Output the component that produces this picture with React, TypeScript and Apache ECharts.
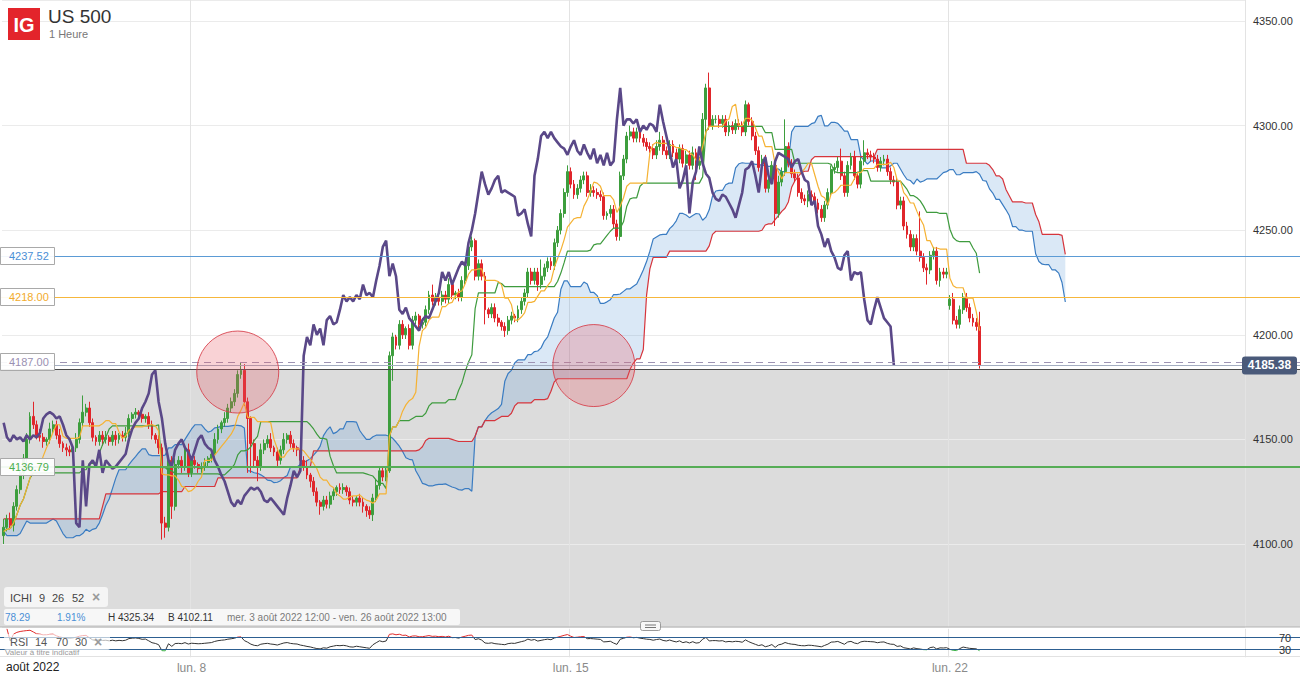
import React, { useEffect, useRef } from "react";
import * as echarts from "echarts";

// ---------- data ----------
const firstOpen = 4104;
const closes = [
  4108, 4112, 4109, 4118, 4126, 4134, 4141, 4150, 4161, 4157,
  4152, 4151, 4149, 4150, 4155, 4157, 4152, 4148, 4146, 4145,
  4144, 4146, 4150, 4158, 4163, 4165, 4158, 4151, 4149, 4152,
  4150, 4151, 4149, 4152, 4150, 4152, 4151, 4153, 4160, 4162,
  4163, 4162, 4160, 4161, 4157, 4152, 4150, 4146, 4110, 4108,
  4140, 4118, 4138, 4140, 4137, 4145, 4134, 4140, 4138, 4136,
  4137, 4139, 4141, 4143, 4150, 4155, 4158, 4160, 4165, 4168,
  4172, 4181, 4183, 4168, 4160, 4148, 4140, 4137, 4145, 4148,
  4150, 4146, 4144, 4140, 4145, 4150, 4152, 4148, 4146, 4145,
  4140, 4137, 4133, 4130, 4125, 4120, 4118, 4121, 4119, 4123,
  4125, 4127, 4126, 4127, 4125, 4121, 4120, 4122, 4120, 4118,
  4116, 4114, 4122, 4128, 4135, 4132, 4135, 4190, 4199, 4195,
  4205, 4200, 4203, 4195, 4207, 4209, 4205, 4206, 4212, 4219,
  4216, 4218, 4216, 4219, 4217, 4224, 4219, 4220, 4218, 4226,
  4233, 4242, 4245, 4228, 4234, 4228, 4212, 4210, 4213, 4208,
  4206, 4204, 4202, 4207, 4209, 4208, 4212, 4216, 4220, 4230,
  4226, 4230, 4224, 4228, 4232, 4235, 4233, 4244, 4250, 4258,
  4268, 4278, 4272, 4267, 4270, 4274, 4276, 4268, 4269, 4268,
  4267, 4266, 4257, 4258, 4260, 4253, 4247, 4276, 4284, 4295,
  4297, 4294, 4297, 4294, 4292, 4290, 4289, 4286, 4290, 4293,
  4288, 4286, 4291, 4287, 4284, 4289, 4282, 4286, 4281, 4287,
  4281, 4283, 4303, 4318, 4300, 4303, 4303, 4301, 4303, 4297,
  4300, 4298, 4301, 4300, 4297, 4310, 4302, 4295, 4288, 4280,
  4284, 4270, 4274, 4281, 4258, 4273, 4278, 4290, 4282, 4277,
  4275, 4268, 4265, 4264, 4267, 4266, 4263, 4260, 4256, 4262,
  4268, 4279, 4280, 4283, 4276, 4268, 4281, 4285, 4276, 4272,
  4283, 4287, 4286, 4285, 4284, 4280, 4283, 4284, 4278, 4274,
  4273, 4262, 4264, 4252, 4248, 4242, 4246, 4240, 4237, 4232,
  4231, 4238, 4240, 4226, 4230, 4229, 4230, 4217, 4207, 4205,
  4212, 4218, 4213, 4208, 4206, 4204, 4185.38,
];
// upper / lower wick lengths in points
const wickUp = [
  4, 2, 3, 2, 2, 3, 2, 3, 2, 7, 2, 3, 2, 1, 3, 2, 2, 3, 1, 2,
  2, 1, 3, 2, 8, 2, 3, 2, 1, 2, 2, 3, 1, 2, 2, 1, 2, 3, 2, 1,
  2, 1, 2, 1, 2, 2, 1, 2, 2, 3, 1, 2, 3, 2, 2, 1, 3, 2, 2, 1,
  2, 2, 1, 2, 3, 2, 1, 3, 2, 2, 2, 2, 4, 3, 2, 1, 2, 2, 3, 2,
  2, 3, 1, 2, 2, 3, 1, 2, 2, 1, 2, 2, 3, 1, 2, 2, 1, 2, 2, 2,
  2, 1, 2, 2, 1, 2, 2, 1, 2, 2, 1, 2, 2, 3, 2, 2, 2, 2, 2, 1,
  2, 2, 1, 2, 2, 2, 1, 2, 2, 2, 5, 2, 1, 2, 2, 3, 2, 1, 2, 2,
  2, 2, 2, 1, 2, 2, 2, 1, 2, 2, 2, 1, 2, 2, 2, 1, 2, 2, 2, 2,
  2, 2, 2, 8, 2, 2, 2, 2, 2, 2, 2, 3, 2, 2, 2, 2, 2, 2, 3, 2,
  2, 2, 2, 1, 2, 2, 2, 2, 2, 2, 3, 2, 2, 2, 2, 2, 2, 2, 3, 4,
  2, 2, 2, 2, 2, 2, 2, 2, 2, 3, 2, 2, 3, 2, 7.34, 2, 2, 2, 2, 2,
  2, 2, 2, 2, 2, 2, 1, 2, 2, 2, 2, 2, 3, 2, 2, 3, 2, 13, 2, 2,
  2, 2, 2, 2, 2, 2, 2, 2, 2, 2, 2, 2, 2, 2, 6, 2, 2, 2, 3, 2,
  2, 6, 2, 2, 2, 2, 2, 2, 2, 2, 2, 2, 2, 2, 2, 2, 2, 2, 19, 2,
  2, 2, 2, 2, 2, 2, 2, 2, 3, 2, 2, 2, 2, 2, 2, 2, 7,
];
const wickDown = [
  4, 2, 2, 3, 2, 2, 3, 2, 2, 2, 2, 2, 3, 2, 2, 2, 2, 2, 2, 3,
  2, 2, 2, 2, 2, 2, 2, 2, 2, 2, 3, 2, 2, 2, 3, 2, 2, 2, 2, 2,
  2, 2, 2, 2, 2, 2, 2, 3, 7.89, 5, 2, 6, 2, 2, 3, 2, 2, 2, 2, 2,
  2, 2, 2, 2, 2, 2, 2, 2, 2, 2, 2, 2, 2, 2, 26, 14, 3, 7, 2, 2,
  2, 2, 2, 3, 2, 2, 2, 2, 2, 3, 2, 2, 2, 3, 2, 2, 4, 2, 2, 2,
  2, 2, 2, 2, 2, 2, 2, 2, 2, 3, 3, 2, 3, 2, 2, 2, 2, 1, 12, 2,
  2, 2, 2, 2, 2, 2, 2, 2, 2, 2, 2, 2, 2, 2, 2, 2, 2, 2, 2, 2,
  2, 2, 2, 2, 2, 2, 7, 2, 2, 2, 2, 2, 3, 2, 2, 2, 2, 2, 2, 2,
  2, 2, 3, 2, 2, 2, 2, 2, 2, 2, 2, 2, 2, 2, 2, 2, 2, 2, 2, 2,
  2, 2, 2, 2, 2, 2, 2, 2, 2, 2, 2, 2, 2, 2, 2, 2, 2, 2, 2, 2,
  2, 2, 2, 2, 2, 2, 2, 2, 2, 2, 7, 2, 2, 10, 2, 2, 2, 2, 2, 2,
  2, 2, 2, 2, 2, 2, 2, 2, 2, 2, 2, 2, 2, 2, 6, 2, 2, 2, 2, 2,
  2, 2, 2, 2, 3, 2, 2, 2, 2, 2, 2, 2, 2, 2, 2, 2, 2, 2, 2, 2,
  2, 2, 2, 2, 2, 2, 2, 2, 2, 2, 2, 2, 2, 2, 2, 2, 2, 2, 2, 2,
  7, 2, 2, 2, 3, 2, 2, 2, 2, 2, 2, 2, 2, 2, 2, 2, 1.5,
];
// session opening gaps: [bar index, open]
const sessionGaps = [[287, 4214]];
// Ichimoku spans at the start of the window
// (they depend on bars that lie before the visible window)
const leadAStart = [
  4106, 4104, 4104, 4104, 4104, 4105, 4108, 4111, 4110, 4110, 4110, 4110, 4110,
  4110, 4111, 4112, 4111, 4108, 4105, 4103, 4103, 4103, 4104, 4104, 4105, 4107,
];
const leadBStart = [
  4112, 4112, 4112, 4112, 4112, 4112, 4112, 4112, 4112, 4112,
  4112, 4112, 4112, 4112, 4112, 4112, 4112, 4112, 4112, 4112,
  4112, 4112, 4112, 4112, 4112, 4112, 4112, 4112, 4112, 4112,
  4118, 4124, 4124, 4124, 4124, 4124, 4124, 4124, 4124, 4124,
  4124, 4124, 4124, 4124, 4124, 4124, 4124, 4124, 4125, 4125,
  4125, 4125, 4125, 4125, 4125, 4127.5, 4127.5, 4127.5, 4127.5, 4127.5,
  4127.5, 4127.5, 4127.5, 4127.5, 4127.5, 4131.6, 4131.6, 4131.6, 4131.6, 4131.6,
  4131.6, 4131.6, 4131.6, 4131.6, 4131.6, 4131.6, 4131.6, 4131.6, 4131.6, 4131.6,
  4131.6, 4131.6, 4131.6, 4131.6, 4131.6, 4131.6, 4131.6, 4131.6, 4131.6, 4131.6,
  4137, 4137, 4137, 4137, 4144.5, 4144.5, 4144.5, 4144.5,
];
const ichiParams = [9, 26, 52];
const rsiParams = [14, 70, 30];
const levelBlue = 4237.52;
const levelOrange = 4218.0;
const levelDashed = 4187.0;
const levelGreen = 4136.79;
const lastPrice = 4185.38;
const shadeTop = 4183.5;
const circleMarks = [
  [71, 4182.2],
  [179, 4185.3],
];
const infoTexts = ["78.29", "1.91%", "H 4325.34", "B 4102.11", "mer. 3 août 2022 12:00 - ven. 26 août 2022 13:00"];

const Y_MIN = 4060.33;
const Y_MAX = 4360.04;
const N_CATS = 377;
const FONT = '"Liberation Sans", Arial, sans-serif';

// ---------- helpers ----------
const DAY = ["dim.", "lun.", "mar.", "mer.", "jeu.", "ven.", "sam."];
function buildCategories(n: number) {
  const out: string[] = [];
  const d = new Date(2022, 7, 3, 12, 0, 0);
  let guard = 0;
  while (out.length < n && guard < 5000) {
    guard++;
    const dow = d.getDay();
    const h = d.getHours();
    if (dow >= 1 && dow <= 5 && h <= 22) {
      out.push(dow === 1 && h === 0 ? `lun. ${d.getDate()}` : `${DAY[dow]} ${d.getDate()} ${h}h`);
    }
    d.setTime(d.getTime() + 3600 * 1000);
  }
  return out;
}

function buildCandles() {
  const opens = closes.map((c, i) => (i === 0 ? firstOpen : closes[i - 1]));
  sessionGaps.forEach(([i, o]) => (opens[i] = o));
  const highs = closes.map((c, i) => Math.max(opens[i], c) + wickUp[i]);
  const lows = closes.map((c, i) => Math.min(opens[i], c) - wickDown[i]);
  return { opens, highs, lows };
}

function midWindow(h: number[], l: number[], i: number, n: number) {
  let hi = -Infinity;
  let lo = Infinity;
  for (let k = Math.max(0, i - n + 1); k <= i; k++) {
    hi = Math.max(hi, h[k]);
    lo = Math.min(lo, l[k]);
  }
  return (hi + lo) / 2;
}

function computeRsi(c: number[], n: number) {
  const out: (number | string)[] = ["-"];
  let ag = 0;
  let al = 0;
  for (let i = 1; i < c.length; i++) {
    const ch = c[i] - c[i - 1];
    const g = Math.max(ch, 0);
    const l = Math.max(-ch, 0);
    if (i <= n) {
      ag = (ag * (i - 1) + g) / i;
      al = (al * (i - 1) + l) / i;
    } else {
      ag = (ag * (n - 1) + g) / n;
      al = (al * (n - 1) + l) / n;
    }
    out.push(al === 0 ? 100 : 100 - 100 / (1 + ag / al));
  }
  return out;
}

export default function App() {
  const ref = useRef<HTMLDivElement>(null);

  useEffect(() => {
    document.body.style.margin = "0";
    if (!ref.current) return;
    const chart = echarts.init(ref.current, null, { renderer: "svg" });

    const cats = buildCategories(N_CATS);
    const { opens, highs, lows } = buildCandles();
    const [pT, pK, pB] = ichiParams;
    const shift = pK;
    const len = closes.length;
    const tenkan = closes.map((_, i) => midWindow(highs, lows, i, pT));
    const kijun = closes.map((_, i) => midWindow(highs, lows, i, pK));
    const leadA: number[] = [...leadAStart];
    const leadB: number[] = [...leadBStart];
    for (let i = 0; i < len; i++) {
      const j = i + shift;
      if (j >= leadAStart.length) leadA[j] = (tenkan[i] + kijun[i]) / 2;
      if (j >= leadBStart.length) leadB[j] = midWindow(highs, lows, i, pB);
    }
    const cloudLow = leadA.map((a, i) => Math.min(a, leadB[i]));
    const cloudDiff = leadA.map((a, i) => Math.abs(a - leadB[i]));
    const chikou = closes.slice(shift);
    const rsi = computeRsi(closes, rsiParams[0]);
    const candleData = closes.map((c, i) => [opens[i], c, lows[i], highs[i]]);

    const weekInterval = (_i: number, v: string) => typeof v === "string" && /^lun\. \d+$/.test(v);

    const line = (name: string, data: any[], color: string, width: number, z = 2) => ({
      name,
      type: "line",
      data,
      xAxisIndex: 0,
      yAxisIndex: 0,
      showSymbol: false,
      symbol: "none",
      silent: true,
      z,
      lineStyle: { color, width },
    });

    chart.setOption({
      animation: false,
      backgroundColor: "#ffffff",
      grid: [
        { left: 2, right: 55, top: 0, height: 627 },
        { left: 2, right: 55, top: 628.8, height: 28.5 },
      ],
      xAxis: [
        {
          type: "category",
          gridIndex: 0,
          data: cats,
          axisLine: { show: false },
          axisTick: { show: false },
          axisLabel: { show: false },
          splitLine: { show: true, interval: weekInterval, lineStyle: { color: "#e3e3e3", width: 1 } },
        },
        {
          type: "category",
          gridIndex: 1,
          data: cats,
          axisLine: { show: false },
          axisTick: { show: false },
          axisLabel: {
            show: true,
            interval: weekInterval,
            color: "#8a8a8a",
            fontSize: 12,
            fontFamily: FONT,
            margin: 5,
          },
          splitLine: { show: true, interval: weekInterval, lineStyle: { color: "#e3e3e3", width: 1 } },
        },
      ],
      yAxis: [
        {
          type: "value",
          gridIndex: 0,
          position: "right",
          min: Y_MIN,
          max: Y_MAX,
          splitNumber: 6,
          axisLine: { show: false },
          axisTick: { show: false },
          axisLabel: {
            color: "#333",
            fontSize: 11,
            fontFamily: FONT,
            margin: 8,
            formatter: (v: number) => (Math.abs(v % 50) < 0.001 ? v.toFixed(2) : ""),
          },
          splitLine: { show: true, lineStyle: { color: "#ebebeb", width: 1 } },
        },
        {
          type: "value",
          gridIndex: 1,
          min: 0,
          max: 100,
          show: false,
          splitLine: { show: false },
        },
      ],
      visualMap: {
        show: false,
        type: "piecewise",
        seriesIndex: 8,
        dimension: 1,
        pieces: [
          { lt: rsiParams[2], color: "#3fb24a" },
          { gte: rsiParams[2], lte: rsiParams[1], color: "#333333" },
          { gt: rsiParams[1], color: "#e02b2b" },
        ],
      },
      series: [
        {
          name: "cloudBase",
          type: "line",
          stack: "cloud",
          data: cloudLow,
          xAxisIndex: 0,
          yAxisIndex: 0,
          symbol: "none",
          silent: true,
          lineStyle: { opacity: 0 },
          z: 1,
        },
        {
          name: "cloud",
          type: "line",
          stack: "cloud",
          data: cloudDiff,
          xAxisIndex: 0,
          yAxisIndex: 0,
          symbol: "none",
          silent: true,
          lineStyle: { opacity: 0 },
          areaStyle: { color: "rgba(95,155,215,0.33)", origin: "auto" },
          z: 1,
        },
        line("senkouA", leadA, "#3a7cc2", 1.2, 2),
        line("senkouB", leadB, "#d6353c", 1.2, 2),
        {
          name: "US 500",
          type: "candlestick",
          data: candleData,
          xAxisIndex: 0,
          yAxisIndex: 0,
          barWidth: 2.4,
          silent: true,
          z: 3,
          itemStyle: {
            color: "#3d9e3d",
            color0: "#e0262b",
            borderColor: "#3d9e3d",
            borderColor0: "#e0262b",
            borderWidth: 1,
          },
        },
        line("kijun", kijun, "#3e9b3e", 1.2, 4),
        line("tenkan", tenkan, "#f5b233", 1.2, 4),
        line("chikou", chikou, "#5a4888", 2.6, 5),
        {
          name: "RSI",
          type: "line",
          data: rsi,
          xAxisIndex: 1,
          yAxisIndex: 1,
          symbol: "none",
          silent: true,
          lineStyle: { width: 1 },
          z: 4,
        },
      ],
    });

    // ---------- overlays placed with the library's scales ----------
    const yM = (v: number) => chart.convertToPixel({ yAxisIndex: 0 }, v) as number;
    const xM = (i: number) => chart.convertToPixel({ xAxisIndex: 0 }, i) as number;
    const yR = (v: number) => chart.convertToPixel({ yAxisIndex: 1 }, v) as number;
    const crisp = (y: number) => Math.round(y) + 0.5;
    const W = 1300;

    const hLine = (y: number, stroke: string, lineWidth: number, dash?: number[], z = 6) => ({
      type: "line",
      silent: true,
      z,
      shape: { x1: 0, y1: y, x2: W, y2: y },
      style: { stroke, lineWidth, lineDash: dash },
    });
    const text = (t: string, x: number, y: number, fill: string, size: number, opts: any = {}) => ({
      type: "text",
      silent: true,
      z: opts.z ?? 30,
      style: {
        text: t,
        x,
        y,
        fill,
        font: `${opts.weight || "normal"} ${size}px ${FONT}`,
        align: opts.align || "left",
        verticalAlign: "middle",
      },
    });
    const levelTag = (v: number, color: string) => {
      const y = yM(v);
      return [
        {
          type: "rect",
          silent: true,
          z: 25,
          shape: { x: 0.5, y: Math.round(y) - 8.5, width: 54, height: 17 },
          style: { fill: "rgba(255,255,255,0.92)", stroke: "#a9a9a9", lineWidth: 1 },
        },
        text(v.toFixed(2), 9, y, color, 11),
      ];
    };

    const shadeY = crisp(yM(shadeTop));
    const mainBottom = yM(Y_MIN);
    const y70 = crisp(yR(rsiParams[1]));
    const y30 = crisp(yR(rsiParams[2]));
    const priceY = yM(lastPrice);

    const elements: any[] = [
      {
        type: "rect",
        silent: true,
        z: -5,
        shape: { x: 0, y: shadeY, width: W, height: mainBottom - shadeY },
        style: { fill: "#dcdcdc" },
      },
      hLine(shadeY, "#4a4a4a", 1),
      hLine(crisp(yM(levelBlue)), "#5b9bd5", 1),
      hLine(crisp(yM(levelOrange)), "#f6b73c", 1),
      hLine(crisp(yM(levelDashed)), "#9d93b3", 1, [7, 5]),
      hLine(crisp(priceY), "#a3adc0", 1),
      hLine(Math.round(yM(levelGreen)), "#56ad56", 2),
      ...levelTag(levelBlue, "#4a8fd6"),
      ...levelTag(levelOrange, "#f2ab2c"),
      ...levelTag(levelDashed, "#9a90b2"),
      ...levelTag(levelGreen, "#4caf50"),
      // last price tag
      {
        type: "rect",
        silent: true,
        z: 25,
        shape: { x: 1242, y: priceY - 9, width: 55, height: 18, r: 3 },
        style: { fill: "#4a5a7a" },
      },
      text(lastPrice.toFixed(2), 1269.5, priceY, "#ffffff", 12, { align: "center", weight: "bold" }),
      // highlighted zones
      ...circleMarks.map(([i, v]) => ({
        type: "circle",
        silent: true,
        z: 20,
        shape: { cx: xM(i), cy: yM(v), r: 41 },
        style: { fill: "rgba(232,90,100,0.27)", stroke: "rgba(214,60,72,0.85)", lineWidth: 1 },
      })),
      // panel separators
      hLine(crisp(mainBottom) - 0.5, "#b3b3b3", 1, undefined, 7),
      hLine(656.5, "#e2e2e2", 1, undefined, 7),
      hLine(y70, "#2d5f91", 1.2, undefined, 6),
      hLine(y30, "#2d5f91", 1.2, undefined, 6),
      text(String(rsiParams[1]), 1279, y70, "#333", 11),
      text(String(rsiParams[2]), 1279, y30, "#333", 11),
      // divider handle
      {
        type: "rect",
        silent: true,
        z: 30,
        shape: { x: 640.5, y: 621.5, width: 20, height: 9, r: 2 },
        style: { fill: "#f7f7f7", stroke: "#9a9a9a", lineWidth: 1 },
      },
      { type: "line", silent: true, z: 31, shape: { x1: 645, y1: 625, x2: 656, y2: 625 }, style: { stroke: "#777", lineWidth: 1 } },
      { type: "line", silent: true, z: 31, shape: { x1: 645, y1: 627.5, x2: 656, y2: 627.5 }, style: { stroke: "#777", lineWidth: 1 } },
      // header
      {
        type: "rect",
        silent: true,
        z: 30,
        shape: { x: 8, y: 8, width: 32, height: 32 },
        style: { fill: "#e3242b" },
      },
      text("IG", 24, 24.5, "#ffffff", 20, { align: "center", weight: "bold" }),
      text("US 500", 48, 16, "#333333", 19),
      text("1 Heure", 49, 34, "#777777", 11),
      // ICHI legend
      {
        type: "rect",
        silent: true,
        z: 28,
        shape: { x: 4, y: 587, width: 104, height: 20, r: 3 },
        style: { fill: "rgba(246,246,246,0.95)" },
      },
      text("ICHI", 10, 597.5, "#444", 11),
      text(String(ichiParams[0]), 39, 597.5, "#444", 11),
      text(String(ichiParams[1]), 52, 597.5, "#444", 11),
      text(String(ichiParams[2]), 72, 597.5, "#444", 11),
      text("×", 92, 597, "#9a9a9a", 14, { weight: "bold" }),
      {
        type: "rect",
        silent: true,
        z: 28,
        shape: { x: 4, y: 609, width: 456, height: 16, r: 2 },
        style: { fill: "rgba(250,250,250,0.9)" },
      },
      text(infoTexts[0], 5, 617, "#4a8fd6", 10),
      text(infoTexts[1], 57, 617, "#4a8fd6", 10),
      text(infoTexts[2], 108, 617, "#333", 10),
      text(infoTexts[3], 168, 617, "#333", 10),
      text(infoTexts[4], 227, 617, "#7a7a7a", 10),
      // RSI legend
      {
        type: "rect",
        silent: true,
        z: 28,
        shape: { x: 4, y: 634, width: 106, height: 16, r: 2 },
        style: { fill: "rgba(255,255,255,0.65)" },
      },
      text("RSI", 10, 642, "#555", 11),
      text(String(rsiParams[0]), 35, 642, "#555", 11),
      text(String(rsiParams[1]), 56, 642, "#555", 11),
      text(String(rsiParams[2]), 75, 642, "#555", 11),
      text("×", 94, 641.5, "#9a9a9a", 14, { weight: "bold" }),
      text("Valeur à titre indicatif", 5, 652, "#9a9a9a", 8),
      // time axis header
      text("août 2022", 6, 667, "#222", 12),
    ];

    chart.setOption({ graphic: { elements } });

    return () => chart.dispose();
  }, []);

  return <div ref={ref} style={{ width: 1300, height: 677 }} />;
}
